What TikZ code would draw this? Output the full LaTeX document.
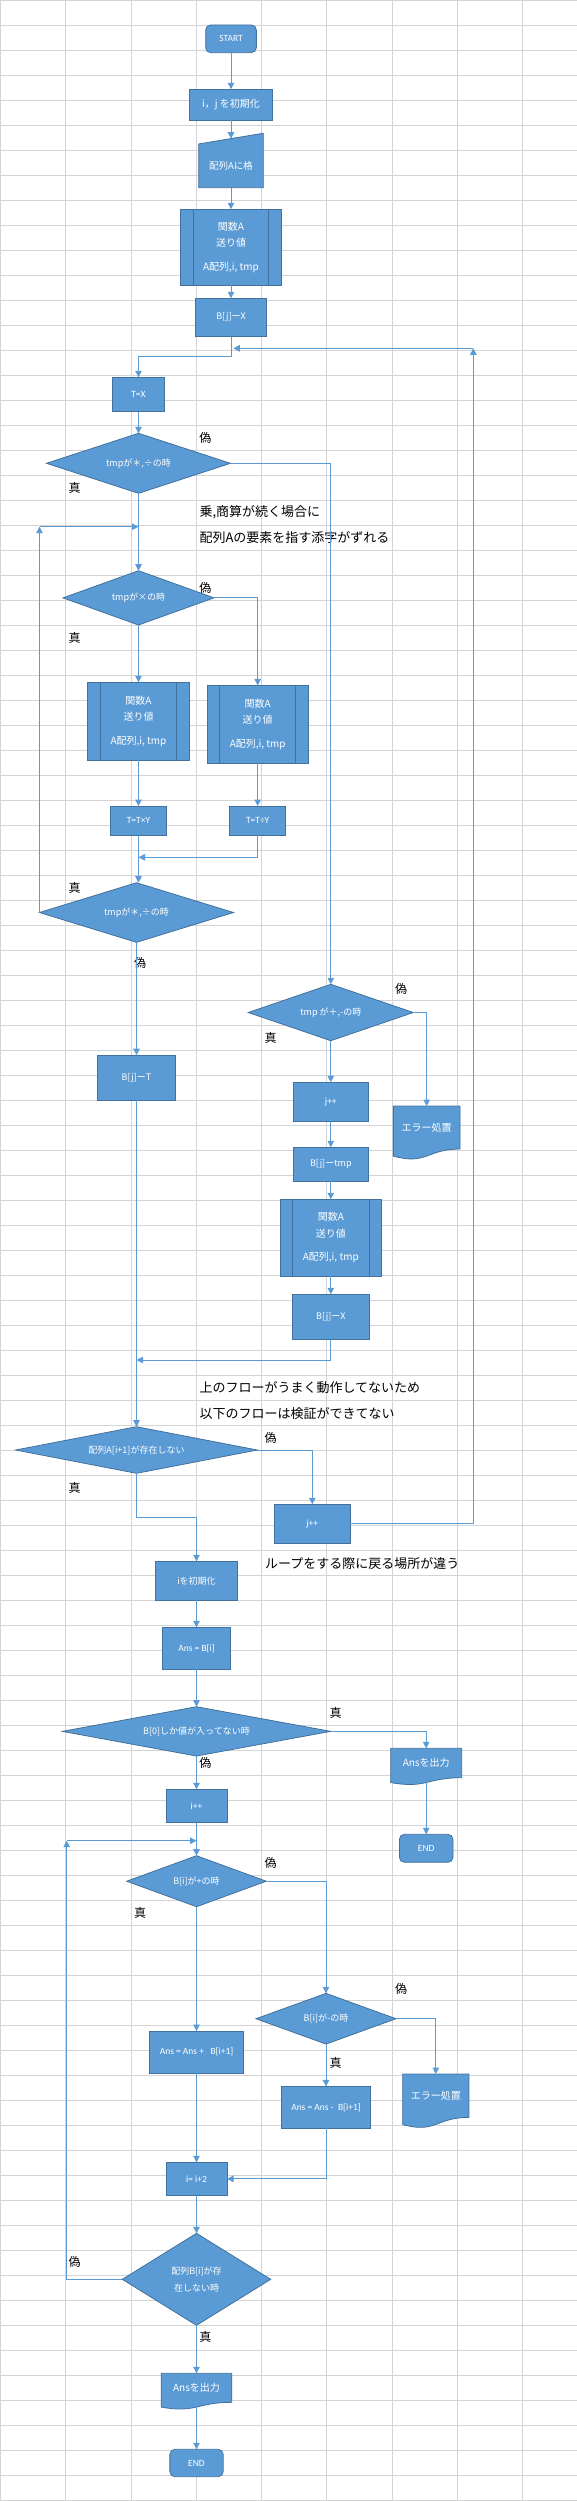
\documentclass[tikz,border=0pt]{standalone}
\usepackage{fontspec}
\setmainfont{Noto Sans CJK JP}
\newfontfamily\latin{Carlito}
\usetikzlibrary{positioning,shapes.geometric,arrows.meta,calc}

\definecolor{boxblue}{HTML}{5B9BD5}
\definecolor{boxline}{HTML}{41719C}
\definecolor{lineblue}{HTML}{5B9BD5}
\definecolor{gridgray}{HTML}{D4D4D4}

\pgfdeclarelayer{grid}
\pgfdeclarelayer{shapes}
\pgfsetlayers{grid,shapes,main}

% outline of the document symbol
\newcommand\docshape[1]{%
  \begin{pgfonlayer}{shapes}
    \path[draw=boxline, fill=boxblue, line width=0.8pt] (#1.north west) -- (#1.north east) -- (#1.south east)
      .. controls (#1.south) and ($(#1.south)!-0.38!(#1.north)$)
      .. ($(#1.south west)!-0.165!(#1.north west)$) -- cycle;
  \end{pgfonlayer}}
% outline of the manual input symbol
\newcommand\inshape[1]{%
  \begin{pgfonlayer}{shapes}
    \path[draw=boxline, fill=boxblue, line width=0.8pt] (#1.north west) -- ([yshift=10.7pt]#1.north east)
      -- (#1.south east) -- (#1.south west) -- cycle;
  \end{pgfonlayer}}

\begin{document}
\begin{tikzpicture}[
		x=1pt, y=-1pt,
		>={Triangle[length=6.5pt,width=6.5pt]},
		proc/.style = {
			draw=boxline, fill=boxblue, text=white, rectangle,
			line width=0.8pt,
			inner sep=0pt, outer sep=0pt,
			font=\fontsize{9}{11}\selectfont
		},
		lat/.style = {font=\latin\fontsize{9.5}{11}\selectfont},
		term/.style = {proc, lat, rounded corners=5pt},
		decision/.style = {proc, diamond},
		predef/.style = {
			proc, align=center, font=\fontsize{10}{16.6}\selectfont,
			path picture={
				\draw[boxline, line width=0.8pt]
					([xshift=12.7pt]path picture bounding box.north west)
					-- ([xshift=12.7pt]path picture bounding box.south west)
					([xshift=-12.7pt]path picture bounding box.north east)
					-- ([xshift=-12.7pt]path picture bounding box.south east);
			}
		},
		docu/.style = {
			rectangle, text=white, inner sep=0pt, outer sep=0pt,
			font=\fontsize{10}{12}\selectfont
		},
		tf/.style = {inner sep=0pt, font=\fontsize{12}{12}\selectfont},
		memo/.style = {anchor=west, inner sep=0pt, font=\fontsize{13}{13}\selectfont},
		conn/.style = {draw=lineblue, line width=1pt},
		gridline/.style = {draw=gridgray, line width=0.8pt}
		]
		\useasboundingbox (0,0) rectangle (577,2501);
		\begin{pgfonlayer}{grid}
			\foreach \gx in {0,...,8}
				\draw[gridline] (\gx*65.25+0.4,0) -- (\gx*65.25+0.4,2501);
			\foreach \gy in {0,...,100}
				\draw[gridline] (0,\gy*25) -- (577,\gy*25);
		\end{pgfonlayer}

		\node[term, minimum width=50.7pt, minimum height=27.7pt] (start) at (231,38.8) {START};
		\node[proc, font=\fontsize{10}{12}\selectfont, minimum width=82.7pt, minimum height=31pt, below=36.6pt of start] (init) {i，j を初期化};
		\node[docu, font=\fontsize{9.5}{11}\selectfont, minimum width=64.6pt, minimum height=43.7pt, below=23.7pt of init] (input) {配列Aに格};
		\inshape{input}
		\node[predef, minimum width=100.6pt, minimum height=76pt, below=21.6pt of input] (funcA1) {関数A\\送り値\\[6.8pt]A配列,i, tmp};
		\node[proc, minimum width=71.7pt, minimum height=38.4pt, below=13pt of funcA1] (setB1) {B[j]ーX};

		\node[proc, lat, minimum width=52.6pt, minimum height=34.4pt] (setT) at (138.5,394.5) {T=X};
		\node[decision, aspect=3.07, minimum width=184pt, minimum height=60pt, below=21.6pt of setT] (dmul1) {tmpが＊,÷の時};
		\node[decision, aspect=2.78, minimum width=151pt, minimum height=54.3pt, below=77.4pt of dmul1] (dmul2) {tmpが×の時};
		\node[predef, minimum width=101.7pt, minimum height=78pt, below=57.3pt of dmul2] (funcA2) {関数A\\送り値\\[6.8pt]A配列,i, tmp};
		\node[predef, minimum width=101.3pt, minimum height=78pt] (funcA3) at (257.7,724.3) {関数A\\送り値\\[6.8pt]A配列,i, tmp};
		\node[proc, lat, minimum width=56pt, minimum height=29.3pt, below=45.7pt of funcA2] (mulT) {T=T×Y};
		\node[proc, lat, minimum width=56pt, minimum height=29.3pt, below=42.7pt of funcA3] (divT) {T=T÷Y};
		\node[decision, aspect=3.26, minimum width=194pt, minimum height=59.6pt] (dmul3) at (136.5,912.5) {tmpが＊,÷の時};
		\node[proc, minimum width=77.6pt, minimum height=45.3pt, below=112.7pt of dmul3] (setB2) {B[j]ーT};

		\node[decision, aspect=2.93, minimum width=165pt, minimum height=56.4pt] (dadd) at (330.8,1012.5) {tmp が＋,-の時};
		\node[docu, minimum width=66.7pt, minimum height=43pt] (err1) at (426.7,1127.5) {エラー処置};
		\docshape{err1}
		\node[proc, lat, minimum width=74.3pt, minimum height=39pt, below=41.6pt of dadd] (incj1) {j++};
		\node[proc, minimum width=74.3pt, minimum height=34pt, below=26pt of incj1] (setB3) {B[j]ーtmp};
		\node[predef, minimum width=101.7pt, minimum height=77pt, below=18pt of setB3] (funcA4) {関数A\\送り値\\[6.8pt]A配列,i, tmp};
		\node[proc, minimum width=77pt, minimum height=45pt, below=18pt of funcA4] (setB4) {B[j]ーX};

		\node[decision, aspect=5.19, minimum width=241.7pt, minimum height=46.6pt, below=326.4pt of setB2] (dexist) {配列A[i+1]が存在しない};
		\node[proc, lat, minimum width=75.3pt, minimum height=39pt] (incj2) at (312.3,1523.8) {j++};
		\node[proc, minimum width=82.4pt, minimum height=39pt] (initi) at (196.5,1580.8) {iを初期化};
		\node[proc, lat, minimum width=67.4pt, minimum height=42pt, below=27pt of initi] (ans1) {Ans = B[i]};
		\node[decision, aspect=5.44, minimum width=268.4pt, minimum height=49.3pt, below=37.4pt of ans1] (donly) {B[0]しか値が入ってない時};
		\node[docu, minimum width=71pt, minimum height=29.4pt] (out1) at (426.2,1763) {Ansを出力};
		\docshape{out1}
		\node[term, minimum width=53.6pt, minimum height=28pt, below=56.6pt of out1] (end1) {END};
		\node[proc, lat, minimum width=61pt, minimum height=33.4pt, below=33.3pt of donly] (inci) {i++};
		\node[decision, aspect=2.74, minimum width=139.6pt, minimum height=51pt, below=33pt of inci] (dplus) {B[i]が+の時};
		\node[decision, aspect=2.76, minimum width=140pt, minimum height=50.7pt] (dminus) at (326,2018.7) {B[i]が-の時};
		\node[proc, lat, minimum width=94.3pt, minimum height=42.3pt, below=124.3pt of dplus] (addA) {Ans = Ans +\ \ \ B[i+1]};
		\node[proc, lat, minimum width=89.7pt, minimum height=42pt, below=42.3pt of dminus] (subA) {Ans = Ans -\ \ B[i+1]};
		\node[docu, minimum width=66.3pt, minimum height=43.3pt] (err2) at (435.8,2095.7) {エラー処置};
		\docshape{err2}
		\node[proc, lat, minimum width=61pt, minimum height=33pt, below=89pt of addA] (addi) {i= i+2};
		\node[decision, aspect=1.61, align=center, font=\fontsize{9}{17}\selectfont, minimum width=148.4pt, minimum height=92pt, below=38pt of addi] (dend) {配列B[i]が存\\在しない時};
		\node[docu, minimum width=70.6pt, minimum height=29pt, below=48pt of dend] (out2) {Ansを出力};
		\docshape{out2}
		\node[term, minimum width=53.3pt, minimum height=27.4pt, below=47pt of out2] (end2) {END};

		\node[tf] (no1) at (205.3,438.3) {偽};
		\node[tf] (yes1) at (74.7,488.3) {真};
		\node[tf] (no2) at (205.3,588.3) {偽};
		\node[tf] (yes2) at (74.7,637.7) {真};
		\node[tf] (yes3) at (74.7,888.3) {真};
		\node[tf] (no3) at (140,963.3) {偽};
		\node[tf] (no4) at (401,988.7) {偽};
		\node[tf] (yes4) at (270.7,1037.7) {真};
		\node[tf] (no5) at (270.7,1438.3) {偽};
		\node[tf] (yes5) at (74.7,1488.3) {真};
		\node[tf] (yes6) at (335.7,1712.7) {真};
		\node[tf] (no6) at (205.3,1762.7) {偽};
		\node[tf] (no7) at (270.7,1862.7) {偽};
		\node[tf] (yes7) at (140,1913.3) {真};
		\node[tf] (no8) at (401,1988.7) {偽};
		\node[tf] (yes8) at (335.7,2062.7) {真};
		\node[tf] (no9) at (74.7,2262.3) {偽};
		\node[tf] (yes9) at (205.3,2336.7) {真};

		\node[memo] (memo1) at (199.3,512.7) {乗,商算が続く場合に};
		\node[memo] (memo2) at (199.3,537.3) {配列Aの要素を指す添字がずれる};
		\node[memo] (memo3) at (199.3,1387.7) {上のフローがうまく動作してないため};
		\node[memo] (memo4) at (199.3,1413.3) {以下のフローは検証ができてない};
		\node[memo] (memo5) at (265,1563.3) {ループをする際に戻る場所が違う};

		\coordinate (j1) at (138.5,857.3);
		\coordinate (loop1) at (dmul3.west |- 0,526.7);
		\coordinate (j2) at (138.5,526.7);
		\coordinate (j3) at (136.5,1360);
		\coordinate (loop2) at (473.3,348.3);
		\coordinate (j4) at (233.3,348.3);
		\coordinate (loop3) at (66.7,1840.7);
		\coordinate (j5) at (196.5,1840.7);

		\draw[conn,->] (start) -- (init);
		\draw[conn,->] (init) -- ([yshift=5.3pt]input.north);
		\draw[conn,->] (input) -- (funcA1);
		\draw[conn,->] (funcA1) -- (setB1);
		\draw[conn,->] (setB1.south) -- ++(0,20) -| (setT.north);
		\draw[conn,->] (setT) -- (dmul1);
		\draw[conn,->] (dmul1.east) -| (dadd.north);
		\draw[conn,->] (dmul1) -- (dmul2);
		\draw[conn,->] (dmul2.east) -| (funcA3.north);
		\draw[conn,->] (dmul2) -- (funcA2);
		\draw[conn,->] (funcA2) -- (mulT);
		\draw[conn,->] (funcA3) -- (divT);
		\draw[conn,->] (mulT.south) -- (mulT.south |- dmul3.north);
		\draw[conn,->] (divT.south) |- (j1);
		\draw[conn,->] (dmul3.west) -- (loop1);
		\draw[conn,->] (loop1) -- (j2);
		\draw[conn,->] (dmul3) -- (setB2);
		\draw[conn,->] (setB2) -- (dexist);
		\draw[conn,->] (dadd.east) -| (err1.north);
		\draw[conn,->] (dadd) -- (incj1);
		\draw[conn,->] (incj1) -- (setB3);
		\draw[conn,->] (setB3) -- (funcA4);
		\draw[conn,->] (funcA4) -- (setB4);
		\draw[conn,->] (setB4.south) |- (j3);
		\draw[conn,->] (dexist.east) -| (incj2.north);
		\draw[conn,->] (incj2.east) -| (loop2);
		\draw[conn,->] (loop2) -- (j4);
		\draw[conn,->] (dexist.south) -- ++(0,44) -| (initi.north);
		\draw[conn,->] (initi) -- (ans1);
		\draw[conn,->] (ans1) -- (donly);
		\draw[conn,->] (donly.east) -| (out1.north);
		\draw[conn,->] (out1) -- (end1);
		\draw[conn,->] (donly) -- (inci);
		\draw[conn,->] (inci) -- (dplus);
		\draw[conn,->] (dplus.east) -| (dminus.north);
		\draw[conn,->] (dplus) -- (addA);
		\draw[conn,->] (dminus.east) -| (err2.north);
		\draw[conn,->] (dminus) -- (subA);
		\draw[conn,->] (addA) -- (addi);
		\draw[conn,->] (subA.south) |- (addi.east);
		\draw[conn,->] (addi) -- (dend);
		\draw[conn,->] (dend.west) -| (loop3);
		\draw[conn,->] (loop3) -- (j5);
		\draw[conn,->] (dend) -- (out2);
		\draw[conn,->] (out2) -- (end2);
	\end{tikzpicture}
\end{document}
